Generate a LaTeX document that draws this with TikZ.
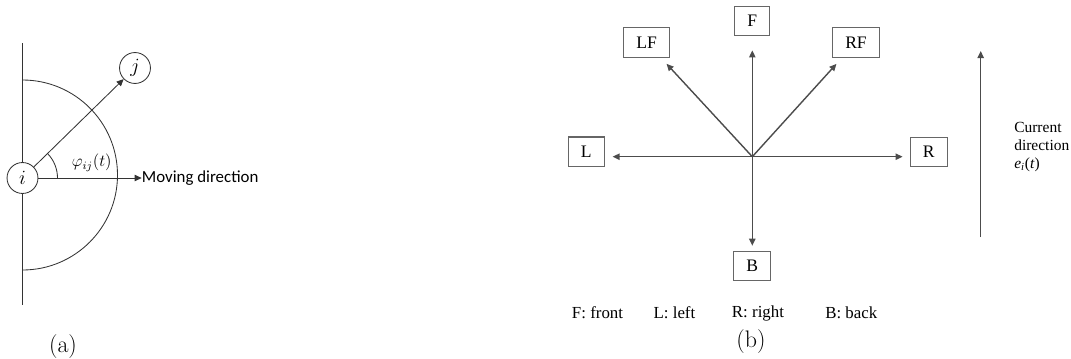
\documentclass[tikz,border=0pt]{standalone}
\usepackage{fontspec}
\newfontfamily\calfont{Carlito}
\newfontfamily\tmsfont{Liberation Serif}
\usetikzlibrary{arrows.meta}

\begin{document}
\begin{tikzpicture}[x=0.025cm, y=0.025cm,
    agent/.style={circle, draw=black!80, line width=0.6pt, fill=white, minimum size=22pt, inner sep=0pt, font=\fontsize{15}{15}\selectfont},
    thinline/.style={draw=black!80, line width=0.6pt},
    thinarrow/.style={thinline, -{Triangle[length=5pt,width=4.5pt]}},
    dirbox/.style={rectangle, draw=black!60, line width=0.8pt, minimum height=21pt, minimum width=25pt, inner xsep=9pt, inner ysep=0pt, font=\tmsfont\fontsize{12.5}{12.5}\selectfont},
    dirarrow/.style={draw=black!70, line width=1pt, -{Triangle[length=5pt,width=4.5pt]}},
    legend/.style={anchor=west, inner sep=0pt, font=\tmsfont\fontsize{12}{12}\selectfont},
    panel/.style={inner sep=0pt, font=\fontsize{17}{17}\selectfont}]

    \useasboundingbox (0,0) rectangle (1071,358);

    % (a) relative bearing
    \draw[thinline] (22.5,315) -- (22.5,53);
    \draw[thinline] (22.5,278) arc[start angle=90, end angle=-90, radius=95];
    \node[agent] (i) at (22.5,180) {$i$};
    \node[agent] (j) at (135,290) {$j$};
    \coordinate (move) at (141.7,180);
    \draw[thinarrow] (i) -- (j);
    \draw[thinarrow] (i) -- (move);
    \draw[thinline] (57.5,180) arc[start angle=0, end angle=44, radius=35];
    \node[inner sep=0pt, font=\fontsize{12}{12}\selectfont] (phi) at (91.7,195) {$\varphi_{ij}(t)$};
    \node[anchor=west, inner sep=0pt, font=\calfont\fontsize{12}{12}\selectfont] (movetxt) at (move) {Moving direction};
    \node[panel] (capa) at (63,11) {(a)};

    % (b) possible directions
    \coordinate (c) at (752.3,201.3);
    \node[dirbox] (F) at (752.3,337) {F};
    \node[dirbox] (LF) at (646.7,315.7) {LF};
    \node[dirbox] (RF) at (856,315.7) {RF};
    \node[dirbox] (L) at (586.3,206.3) {L};
    \node[dirbox] (R) at (928.7,206) {R};
    \node[dirbox] (B) at (752.3,92) {B};

    \draw[dirarrow, shorten >=10pt] (c) -- (F);
    \draw[dirarrow, shorten >=6pt] (c) -- (LF);
    \draw[dirarrow, shorten >=6pt] (c) -- (RF);
    \draw[dirarrow, shorten >=5.5pt] (c) -- (c -| L.east);
    \draw[dirarrow, shorten >=5pt] (c) -- (c -| R.west);
    \draw[dirarrow, shorten >=3.5pt] (c) -- (B);

    \node[legend] (lf) at (571.7,45) {F: front};
    \node[legend] (ll) at (653.3,45) {L: left};
    \node[legend] (lr) at (731.7,45) {R: right};
    \node[legend] (lb) at (825,45) {B: back};
    \node[panel] (capb) at (751,16) {(b)};

    \coordinate (cur0) at (980.7,121);
    \coordinate (cur1) at (980.7,307);
    \draw[dirarrow] (cur0) -- (cur1);
    \node[anchor=north west, inner sep=0pt, align=left, font=\tmsfont\fontsize{11}{12.8}\selectfont] (curtxt) at (1014,236)
        {Current\\direction\\\textit{e}\textsubscript{\textit{i}}(\textit{t})};

\end{tikzpicture}
\end{document}
